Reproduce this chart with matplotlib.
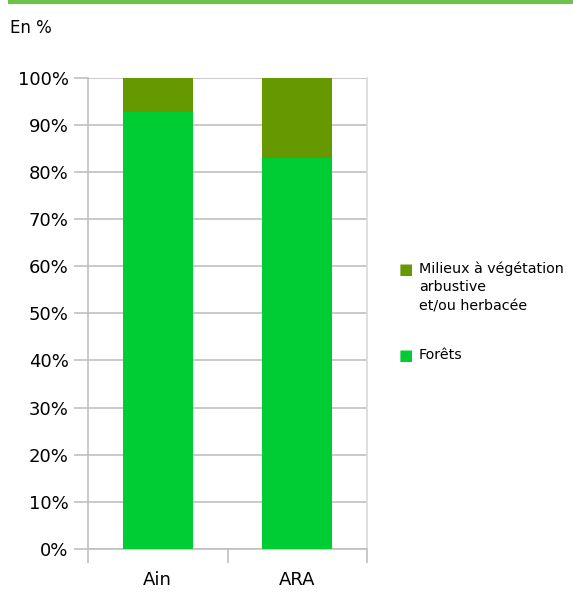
import matplotlib.pyplot as plt
from matplotlib.lines import Line2D

categories = ['Ain', 'ARA']
forets = [92.8, 83.0]
milieux = [7.2, 17.0]
yticks = [0, 10, 20, 30, 40, 50, 60, 70, 80, 90, 100]

c_forets = '#00cc33'
c_milieux = '#669900'
grid_c = '#c0c0c0'

plt.rcParams['font.family'] = ['DejaVu Sans']

fig = plt.figure(figsize=(5.73, 5.95), dpi=100)
ax = fig.add_axes([88 / 573, 1 - 549 / 595, 279 / 573, (549 - 77.7) / 595])

x = range(len(categories))
ax.bar(x, forets, width=0.5, color=c_forets, zorder=3)
ax.bar(x, milieux, width=0.5, bottom=forets, color=c_milieux, zorder=3)

ax.set_xlim(-0.5, 1.5)
ax.set_ylim(0, 100)
ax.set_yticks(yticks)
ax.set_yticklabels([f'{v}%' for v in yticks], fontsize=13)
ax.set_xticks(list(x))
ax.set_xticklabels(categories, fontsize=13)
ax.set_xticks([-0.5, 0.5, 1.5], minor=True)
ax.tick_params(axis='x', which='major', length=0, pad=16)
ax.tick_params(axis='x', which='minor', length=10, color=grid_c, width=1.2)
ax.tick_params(axis='y', length=10, color=grid_c, width=1.2, pad=4)
ax.yaxis.grid(True, color=grid_c, linewidth=1.2, zorder=0)
ax.spines['top'].set_visible(False)
ax.spines['right'].set_color('#d9d9d9')
ax.spines['right'].set_linewidth(1.2)
for s in ['left', 'bottom']:
    ax.spines[s].set_color(grid_c)
    ax.spines[s].set_linewidth(1.2)

# green line on top of the figure
fig.add_artist(Line2D([10 / 573, 1], [1 - 1.5 / 595, 1 - 1.5 / 595],
                      color='#6cc24a', linewidth=3, transform=fig.transFigure))
fig.text(10 / 573, 1 - 28 / 595, 'En %', fontsize=12, va='center')

# legend
fig.text(399 / 573, 1 - 270 / 595, '■', color=c_milieux, fontsize=11, va='center')
fig.text(419 / 573, 1 - 261 / 595, 'Milieux à végétation\narbustive\net/ou herbacée',
         fontsize=10.3, va='top', linespacing=1.45)
fig.text(399 / 573, 1 - 355 / 595, '■', color=c_forets, fontsize=11, va='center')
fig.text(419 / 573, 1 - 355 / 595, 'Forêts', fontsize=10.3, va='center')

plt.savefig('out.png', dpi=100)
